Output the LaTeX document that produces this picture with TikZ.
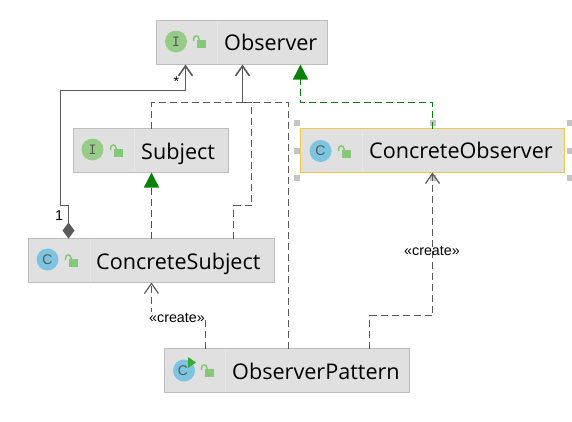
\documentclass[tikz,border=0pt]{standalone}
\usepackage{fontspec}
\setmainfont{Open Sans}
\newfontfamily\lblfont{Liberation Sans}
\newfontfamily\iconfont{DejaVu Sans Mono}
\newfontfamily\iconsans{Liberation Sans}
\usetikzlibrary{arrows.meta,calc}
\definecolor{boxfill}{HTML}{E0E0E0}
\definecolor{boxline}{HTML}{BDBDBD}
\definecolor{divline}{HTML}{E8E8E8}
\definecolor{conn}{HTML}{5A5A5A}
\definecolor{grn}{HTML}{0A820A}
\definecolor{ifill}{HTML}{96CC88}
\definecolor{cfill}{HTML}{7CC4E0}
\definecolor{lockc}{HTML}{86C77A}
\definecolor{selc}{HTML}{EBC94A}
\definecolor{handle}{HTML}{C4C4C4}
\tikzset{
  umlbox/.style={draw=boxline,fill=boxfill,line width=1pt,minimum height=44pt,inner sep=0pt,outer sep=0pt,anchor=north west},
  title/.style={anchor=base west,inner sep=0pt,text=black,font=\fontsize{21.6}{24}\selectfont},
  depline/.style={draw=conn,line width=1.4pt,dash pattern=on 7pt off 4pt},
  assoc/.style={draw=conn,line width=1.6pt},
  openarrow/.style={-{Straight Barb[length=10pt,width=14pt,line width=1.6pt]}},
  realize/.style={draw=grn,line width=1.4pt,dash pattern=on 7pt off 4pt,-{Triangle[length=15pt,width=15pt,fill=grn]}},
  lbl/.style={inner sep=0pt,text=black,font=\lblfont\fontsize{14.3}{15}\selectfont},
  selhandle/.style={fill=handle,draw=none,minimum size=6pt,inner sep=0pt},
  iconletter/.style={inner sep=0pt,font=\iconfont\fontsize{13}{14}\selectfont,text=#1},
  iconc/.style={inner sep=0pt,font=\iconsans\fontsize{14}{14}\selectfont,text=#1},
  divider/.style={draw=divline,line width=1pt},
  lockbody/.style={fill=lockc,draw=none},
  lockarc/.style={draw=lockc,line width=1.5pt}
}
\newcommand{\lockicon}[2]{%
  \fill[lockbody] (#1,#2-1) rectangle (#1+9,#2+7);
  \draw[lockarc] (#1+2,#2-1) -- (#1+2,#2-2) .. controls (#1+2,#2-6) and (#1-3.5,#2-6) .. (#1-3.5,#2-2) -- (#1-3.5,#2);
}
\begin{document}
\begin{tikzpicture}[x=1pt,y=-1pt]
\useasboundingbox (0,0) rectangle (572,421);
\fill[white] (0,0) rectangle (572,421);

% selection handles
\foreach \hx/\hy/\hn in {297/123/a,433/123/b,570/123/c,297/151/d,570/151/e,297/178/f,433/178/g,570/178/h}
  \node[selhandle] (sel\hn) at (\hx,\hy) {};

% boxes
\node[umlbox,minimum width=171pt] (obs) at (156.5,20.5) {};
\node[umlbox,minimum width=155pt] (subj) at (73.5,128.5) {};
\node[umlbox,minimum width=246pt] (csub) at (28.5,238.5) {};
\node[umlbox,minimum width=245pt] (opat) at (164.5,348.5) {};
\node[umlbox,minimum width=264pt,draw=selc,line width=1.2pt] (cobs) at (300.5,128.5) {};

% dividers
\draw[divider] (217.5,21) -- (217.5,64);
\draw[divider] (134.5,129) -- (134.5,172);
\draw[divider] (90.5,239) -- (90.5,282);
\draw[divider] (225.5,349) -- (225.5,392);
\draw[divider] (362.5,130) -- (362.5,172);

% icons
\fill[ifill] (176,41.5) circle (11);
\node[iconletter=black!65] (iconobs) at (176,41.5) {I};
\fill[ifill] (92.5,149.5) circle (11);
\node[iconletter=black!65] (iconsubj) at (92.5,149.5) {I};
\fill[cfill] (47.5,259.5) circle (11);
\node[iconc=black!65] (iconcsub) at (47.5,259.5) {C};
\fill[cfill] (320.5,151) circle (11);
\node[iconc=black!65] (iconcobs) at (320.5,151) {C};
\fill[cfill] (184,370.5) circle (11);
\fill[green!60!black!80!white] (188,357) -- (196,362.5) -- (188,368) -- cycle;
\node[iconc=black!65] (iconopat) at (183,370.5) {C};
\lockicon{197}{41}
\lockicon{114}{150}
\lockicon{69}{260}
\lockicon{342}{151}
\lockicon{205}{370}

% titles
\node[title] (tobs) at (224,50) {Observer};
\node[title] (tsubj) at (141,159) {Subject};
\node[title] (tcsub) at (96,269) {ConcreteSubject};
\node[title] (tcobs) at (369,158.5) {ConcreteObserver};
\node[title] (topat) at (232,379) {ObserverPattern};

% composition / association
\coordinate (aa) at ($(csub.north west)+(40,0)$);
\coordinate (ab) at ($(obs.south west)+(29,0)$);
\draw[assoc,{Diamond[length=16pt,width=12pt,fill=conn]}-{Straight Barb[length=10pt,width=14pt,line width=1.6pt]}]
  (aa) -- ++(0,-33) -- ++(-8,0) -- (60.5,90.5) -- (ab |- 0,90.5) -- (ab);
\node[lbl] (lstar) at (176.5,82) {*};
\node[lbl] (lone) at (59,216) {1};

% dependencies to Observer
\coordinate (dep) at ($(obs.south west)+(86,0)$);
\coordinate (sn) at ($(subj.north)+(0.5,0)$);
\draw[depline] (sn) -- (sn |- 0,102.5) -- (dep |- 0,102.5);
\coordinate (csd) at ($(csub.north west)+(205,0)$);
\draw[depline] (csd) -- (csd |- 0,205.5) -- (251.5,205.5) -- (251.5,102.5) -- (dep |- 0,102.5);
\coordinate (opd) at ($(opat.north west)+(124,0)$);
\draw[depline] (opd) -- (opd |- 0,102.5) -- (dep |- 0,102.5);
\draw[assoc,openarrow] (dep |- 0,102.5) -- (dep);

% realizations
\draw[realize] (csub.north) -- (csub.north |- subj.south);
\coordinate (rr) at ($(obs.south east)+(-27,0)$);
\draw[realize] (cobs.north) -- (cobs.north |- 0,102.5) -- (rr |- 0,102.5) -- (rr);

% create dependencies
\coordinate (cr1) at ($(opat.north west)+(41,0)$);
\draw[depline,-{Straight Barb[length=10pt,width=14pt,line width=1.2pt]}] (cr1) -- (cr1 |- 0,318.5) -- (csub.south |- 0,318.5) -- (csub.south);
\node[lbl,fill=white,inner xsep=0pt,inner ysep=1pt] (lcr1) at (177,318) {«create»};
\coordinate (cr2) at ($(opat.north west)+(205,0)$);
\draw[depline,-{Straight Barb[length=10pt,width=14pt,line width=1.2pt]}] (cr2) -- (cr2 |- 0,315.5) -- (cobs.south |- 0,315.5) -- (cobs.south);
\node[lbl] (lcr2) at (432,251) {«create»};
\end{tikzpicture}
\end{document}
